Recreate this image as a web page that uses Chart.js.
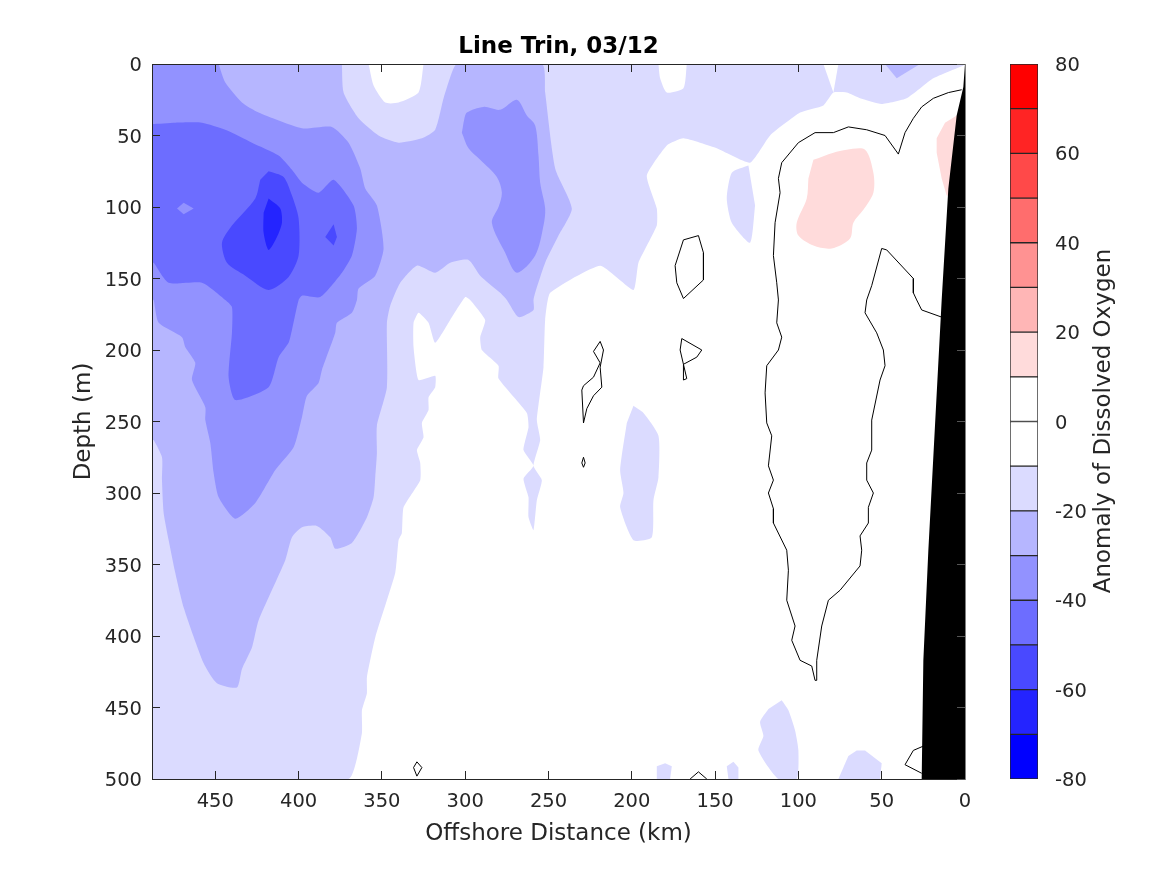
<!DOCTYPE html>
<html>
<head>
<meta charset="utf-8">
<title>Line Trin, 03/12</title>
<script src="https://cdn.jsdelivr.net/npm/chart.js@4"></script>
<style>
	html, body { margin: 0; padding: 0; background: #fff; }
	#wrap { position: relative; width: 1167px; height: 875px; overflow: hidden; }
	#section { position: absolute; left: 0; top: 0; }
	#colorbar { position: absolute; left: 1000px; top: 0; }
</style>
</head>
<body>
<div id="wrap">
	<canvas id="section" width="1167" height="875"></canvas>
	<canvas id="colorbar" width="167" height="875"></canvas>
</div>
<script>
const xTicks = [0, 50, 100, 150, 200, 250, 300, 350, 400, 450];
const yTicks = [0, 50, 100, 150, 200, 250, 300, 350, 400, 450, 500];
const barTicks = [-80, -60, -40, -20, 0, 20, 40, 60, 80];
const barLevels = [-80, -70, -60, -50, -40, -30, -20, -10, 0, 10, 20, 30, 40, 50, 60, 70, 80];
const barColors = ['#0000ff', '#2424ff', '#4949ff', '#6d6dff', '#9292ff', '#b6b6ff', '#dbdbff', '#ffffff',
	'#ffffff', '#ffdbdb', '#ffb6b6', '#ff9292', '#ff6d6d', '#ff4949', '#ff2424', '#ff0000'];

// filled contours, [km, depth]
const minus10Main = [[0,0],[1,1],[19,10],[35,24],[50,28],[63,24],[71,20],[79,20],[85,29],[99,34],[117,50],[129,69],[149,59],[169,52],[179,57],[191,78],[185,101],[185,113],[196,139],[199,158],[219,141],[249,160],[252,179],[253,212],[257,249],[255,263],[259,281],[254,291],[257,305],[259,326],[262,317],[262,303],[265,290],[259,281],[265,270],[262,254],[263,244],[280,220],[280,211],[290,200],[291,191],[288,179],[297,165],[300,163],[309,179],[318,195],[322,181],[328,174],[331,181],[331,198],[328,221],[318,218],[318,226],[322,233],[322,242],[326,251],[325,261],[329,270],[327,279],[327,291],[337,310],[338,328],[340,333],[342,356],[354,401],[359,429],[359,440],[362,452],[362,468],[370,500],[488,500],[488,0]];
const minus10Shelf = [[130,71],[140,76],[143,94],[140,111],[129,125],[126,99]];
const minus10Mid = [[199,239],[193,244],[184,260],[184,289],[187,305],[188,331],[199,333],[207,310],[205,300],[207,284],[203,251]];
const minus10BedA = [[185,491],[180,489],[176,491],[177,500],[185,500]];
const minus10BedB = [[143,491],[139,488],[136,492],[136,500],[142,500]];
const minus10BedC = [[110,445],[106,452],[102,466],[100,480],[101,500],[112,500],[124,480],[121,470],[123,460],[118,451]];
const minus10BedD = [[70,484],[65,480],[60,480],[50,489],[51,500],[76,500]];
const holeTopA = [[358,0],[355,15],[348,27],[340,27],[328,20],[325,0]];
const holeTopB = [[184,0],[183,10],[179,20],[169,17],[167,0]];
const holeTopC = [[85,0],[76,0],[79,20]];
const minus20Main = [[374,0],[373,20],[364,38],[352,50],[340,55],[326,52],[318,46],[313,24],[308,6],[305,0],[254,0],[252,20],[246,73],[236,101],[244,120],[252,139],[258,160],[259,165],[259,172],[268,177],[275,165],[279,160],[291,148],[298,137],[309,139],[318,146],[329,141],[339,153],[345,169],[347,181],[347,226],[353,253],[353,272],[354,289],[355,303],[359,317],[368,335],[378,339],[381,331],[389,323],[398,324],[404,331],[408,347],[424,389],[428,408],[434,423],[437,436],[449,433],[457,419],[469,380],[474,356],[478,333],[481,314],[482,291],[482,275],[487,263],[488,263],[488,0]];
const minus20Top = [[48,0],[41,10],[27,0]];
const minus30Main = [[448,0],[444,13],[434,27],[424,34],[398,45],[380,44],[370,55],[363,73],[360,87],[353,99],[349,129],[354,148],[364,157],[365,165],[368,174],[377,181],[378,188],[386,214],[388,223],[395,232],[398,247],[403,268],[414,284],[426,307],[438,318],[448,303],[451,286],[453,265],[456,249],[456,240],[464,221],[462,209],[468,198],[470,191],[484,181],[487,165],[488,165],[488,0]];
const minus30Blob = [[301,41],[299,34],[289,30],[279,32],[269,25],[263,36],[258,43],[256,64],[255,83],[252,101],[253,113],[258,134],[269,146],[276,132],[284,111],[280,100],[278,90],[281,79],[291,67],[298,59],[302,48]];
const minus40Main = [[488,42],[474,41],[458,41],[444,46],[428,55],[412,64],[404,74],[398,83],[388,90],[379,81],[367,99],[365,115],[368,134],[374,146],[387,163],[398,162],[400,165],[404,186],[406,195],[412,205],[418,226],[438,235],[442,219],[440,188],[440,170],[444,165],[458,153],[478,153],[487,139],[488,139]];
const minus30Speck = [[473,101],[469,97],[463,101],[469,105]];
const minus50Main = [[418,75],[409,79],[404,92],[400,108],[400,134],[406,149],[418,158],[432,148],[443,139],[446,125],[440,113],[426,94],[423,81]];
const minus50Speck = [[379,112],[377,121],[379,127],[384,121]];
const minus60Main = [[418,94],[411,101],[410,111],[413,121],[418,130],[421,118],[421,104]];
const plus10Main = [[91,67],[79,62],[71,60],[60,60],[55,76],[55,90],[61,102],[67,111],[69,122],[80,129],[91,127],[100,120],[101,111],[95,94],[94,80]];
const plus10Coast = [[5,36],[12,41],[17,52],[17,62],[14,80],[11,92],[0,92],[0,36]];
const landMask = [[0,0],[1,16],[5,36],[10,87],[14,165],[22,340],[25,417],[26,500],[0,500]];

// zero contour lines, [km, depth]
const zeroMain = [[2,18],[10,20],[19,24],[26,30],[31,38],[36,48],[40,63],[48,50],[59,46],[70,44],[79,48],[90,48],[100,55],[110,69],[112,80],[111,90],[114,111],[115,134],[113,153],[112,165],[113,181],[110,191],[112,200],[119,211],[120,230],[119,251],[116,260],[118,281],[115,291],[118,300],[115,311],[115,321],[107,340],[106,354],[107,375],[102,393],[104,403],[99,417],[92,421],[90,431],[89,431],[89,417],[86,393],[82,375],[75,368],[63,351],[62,340],[63,330],[58,321],[58,310],[55,300],[59,291],[59,279],[56,270],[56,258],[56,249],[51,221],[48,211],[49,200],[53,188],[60,174],[59,165],[56,155],[50,129],[47,130],[31,150],[31,160],[29,165],[26,172],[14,177]];
const zeroRing = [[169,123],[160,120],[157,132],[157,151],[169,164],[173,153],[174,141],[169,123]];
const zeroTwist = [[219,194],[217,200],[219,212],[218,226],[223,232],[227,241],[229,251],[230,228],[229,225],[223,219],[219,209],[223,201],[219,194]];
const zeroDot = [[229,275],[228,279],[229,282],[230,279],[229,275]];
const zeroLoop = [[170,192],[158,200],[161,205],[169,210],[167,220],[169,221],[169,210],[171,200],[170,192]];
const zeroDiamond = [[329,488],[326,492],[329,498],[331,492],[329,488]];
const zeroBed = [[165,500],[160,495],[155,500]];
const zeroCoast = [[25,477],[31,480],[36,490],[26,496]];

const fills = [
	[minus10Main, '#dbdbff', 0.15], [minus10Shelf, '#dbdbff', 0.2], [minus10Mid, '#dbdbff', 0.2], [minus10BedA, '#dbdbff', 0],
	[minus10BedB, '#dbdbff', 0], [minus10BedC, '#dbdbff', 0.2], [minus10BedD, '#dbdbff', 0],
	[holeTopA, '#ffffff', 0.2], [holeTopB, '#ffffff', 0.2], [holeTopC, '#ffffff', 0],
	[minus20Main, '#b6b6ff', 0.2], [minus20Top, '#b6b6ff', 0],
	[minus30Main, '#9292ff', 0.2], [minus30Blob, '#9292ff', 0.3],
	[minus40Main, '#6d6dff', 0.2], [minus30Speck, '#9292ff', 0],
	[minus50Main, '#4949ff', 0.25], [minus50Speck, '#4949ff', 0],
	[minus60Main, '#2424ff', 0.25],
	[plus10Main, '#ffdbdb', 0.3], [plus10Coast, '#ffdbdb', 0],
	[landMask, '#000000', 0]
];
const lines = [zeroMain, zeroRing, zeroTwist, zeroDot, zeroLoop, zeroDiamond, zeroBed, zeroCoast];

const inkColor = '#262626';
const fontName = '"DejaVu Sans", sans-serif';

function toPoints(list) {
	return list.map(function(p) { return { x: p[0], y: p[1] }; });
}

const datasets = [];
lines.forEach(function(list) {
	datasets.push({
		data: toPoints(list),
		showLine: true,
		borderColor: '#000000',
		borderWidth: 1,
		pointRadius: 0,
		fill: false,
		order: 0
	});
});
fills.forEach(function(item, i) {
	datasets.push({
		data: toPoints(item[0]),
		showLine: true,
		borderWidth: 0,
		borderColor: item[1],
		backgroundColor: item[1],
		tension: item[2],
		pointRadius: 0,
		fill: 'shape',
		order: fills.length - i
	});
});

function axisOptions(ticks, reverse, max, position, main) {
	const isX = position === 'bottom' || position === 'top';
	return {
		type: 'linear',
		position: position,
		reverse: reverse,
		min: 0,
		max: max,
		afterBuildTicks: function(s) {
			s.ticks = ticks.map(function(v) { return { value: v }; });
		},
		afterFit: function(s) {
			if (isX) s.height = main ? 96 : 0;
			else s.width = main ? 152 : 0;
		},
		grid: {
			drawOnChartArea: false,
			drawTicks: true,
			tickLength: -8,
			tickColor: position === 'right' ? '#555555' : inkColor,
			tickWidth: 1,
			z: 1
		},
		border: {
			display: true,
			color: position === 'right' ? '#808080' : inkColor,
			width: 1,
			z: 1
		},
		ticks: {
			display: main,
			autoSkip: false,
			maxRotation: 0,
			padding: isX ? 19 : 18,
			labelOffset: isX ? 0 : 2,
			color: inkColor,
			font: { family: fontName, size: 19.5 }
		}
	};
}

const xAxis = axisOptions(xTicks, true, 488, 'bottom', true);
xAxis.title = {
	display: true,
	text: 'Offshore Distance (km)',
	color: inkColor,
	font: { family: fontName, size: 23 },
	padding: { top: 0, bottom: 27 }
};
const yAxis = axisOptions(yTicks, true, 500, 'left', true);
yAxis.title = {
	display: true,
	text: 'Depth (m)',
	color: inkColor,
	font: { family: fontName, size: 23 },
	padding: { top: 70, bottom: 0 }
};

new Chart(document.getElementById('section'), {
	type: 'scatter',
	data: { datasets: datasets },
	options: {
		responsive: false,
		animation: false,
		layout: { padding: { left: 0, right: 202, top: 0, bottom: 0 } },
		elements: { line: { tension: 0 } },
		plugins: {
			legend: { display: false },
			tooltip: { enabled: false },
			title: {
				display: true,
				fullSize: false,
				text: 'Line Trin, 03/12',
				color: '#000000',
				font: { family: fontName, size: 23, weight: 'bold' },
				padding: { top: 33, bottom: 3.4 }
			}
		},
		scales: {
			x: xAxis,
			y: yAxis,
			x2: axisOptions(xTicks, true, 488, 'top', false),
			y2: axisOptions(yTicks, true, 500, 'right', false)
		}
	}
});

const barDatasets = barColors.map(function(color, i) {
	return {
		data: [[barLevels[i], barLevels[i + 1]]],
		backgroundColor: color,
		borderColor: inkColor,
		borderWidth: 1,
		borderSkipped: false,
		barPercentage: 1,
		categoryPercentage: 1,
		grouped: false
	};
});

const barLabel = {
	id: 'barLabel',
	afterDraw: function(chart) {
		const ctx = chart.ctx;
		ctx.save();
		ctx.translate(104.5, 421);
		ctx.rotate(-Math.PI / 2);
		ctx.textAlign = 'center';
		ctx.textBaseline = 'middle';
		ctx.fillStyle = inkColor;
		ctx.font = '23px ' + fontName;
		ctx.fillText('Anomaly of Dissolved Oxygen', 0, 0);
		ctx.restore();
	}
};

new Chart(document.getElementById('colorbar'), {
	type: 'bar',
	data: { labels: [''], datasets: barDatasets },
	plugins: [barLabel],
	options: {
		responsive: false,
		animation: false,
		layout: { padding: { left: 10, right: 0, top: 64, bottom: 96 } },
		plugins: {
			legend: { display: false },
			tooltip: { enabled: false }
		},
		scales: {
			x: { display: false },
			y: {
				position: 'right',
				min: -80,
				max: 80,
				afterBuildTicks: function(s) {
					s.ticks = barTicks.map(function(v) { return { value: v }; });
				},
				afterFit: function(s) { s.width = 129; },
				grid: { display: false },
				border: { display: false },
				ticks: {
					padding: 9,
					labelOffset: 2,
					color: inkColor,
					font: { family: fontName, size: 19.5 }
				}
			}
		}
	}
});
</script>
</body>
</html>
